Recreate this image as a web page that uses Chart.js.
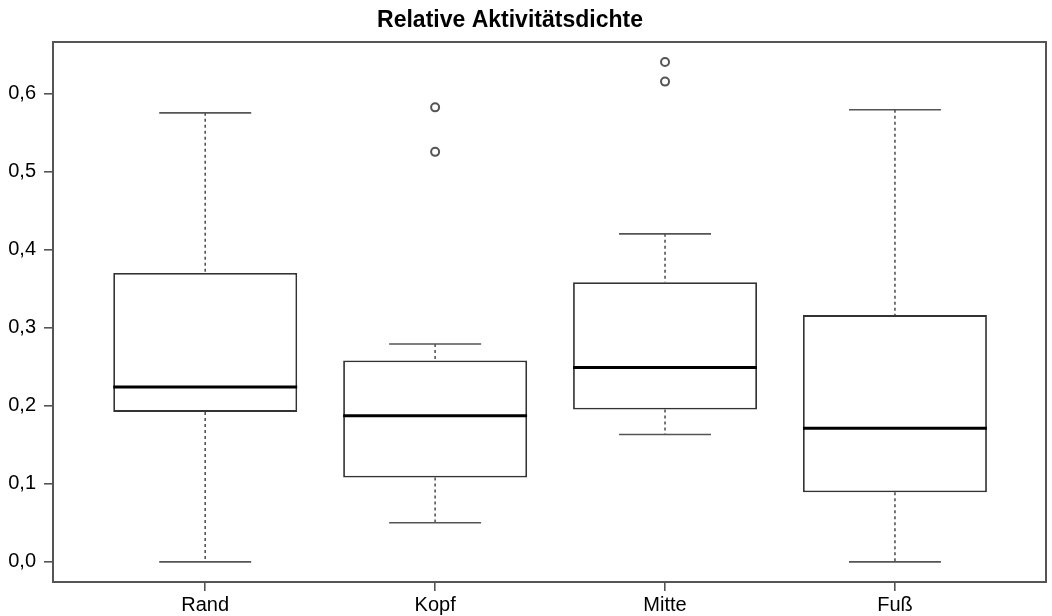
<!DOCTYPE html>
<html>
<head>
<meta charset="utf-8">
<script src="https://cdn.jsdelivr.net/npm/chart.js@4/dist/chart.umd.min.js"></script>
<style>
  html, body { margin: 0; padding: 0; background: #fff; }
  #wrap { width: 1052px; height: 616px; }
</style>
</head>
<body>
<div id="wrap"><canvas id="boxChart" width="1052" height="616"></canvas></div>
<script>
// Daten
const categories = ["Rand", "Kopf", "Mitte", "Fuß"];
const whiskerLow = [0.000, 0.050, 0.163, 0.000];
const q1 = [0.192, 0.108, 0.195, 0.089];
const median = [0.224, 0.187, 0.249, 0.171];
const q3 = [0.370, 0.258, 0.358, 0.316];
const whiskerHigh = [0.575, 0.279, 0.420, 0.579];
const outlierCat = [1, 1, 2, 2];
const outlierVal = [0.582, 0.525, 0.640, 0.615];
const yTicks = [0.0, 0.1, 0.2, 0.3, 0.4, 0.5, 0.6];
const titleText = "Relative Aktivitätsdichte";

const FONT = "'Liberation Sans', Arial, sans-serif";

/* ===============================
   BOXPLOT-DETAILS (Whisker, Median)
================================ */

const boxDetails = {
  id: "boxDetails",
  afterDatasetsDraw(chart) {
    const { ctx, scales } = chart;
    const meta = chart.getDatasetMeta(0);
    const y = scales.y;

    ctx.save();
    meta.data.forEach((bar, i) => {
      const cx = bar.x;
      const half = bar.width / 2;
      const yLow = y.getPixelForValue(whiskerLow[i]);
      const yQ1 = y.getPixelForValue(q1[i]);
      const yQ3 = y.getPixelForValue(q3[i]);
      const yHigh = y.getPixelForValue(whiskerHigh[i]);
      const yMed = y.getPixelForValue(median[i]);

      // gestrichelte Whisker
      ctx.strokeStyle = "#555";
      ctx.lineWidth = 1.6;
      ctx.setLineDash([3, 3]);
      ctx.beginPath();
      ctx.moveTo(cx, yHigh);
      ctx.lineTo(cx, yQ3);
      ctx.moveTo(cx, yQ1);
      ctx.lineTo(cx, yLow);
      ctx.stroke();

      // Querstriche
      ctx.setLineDash([]);
      ctx.beginPath();
      ctx.moveTo(cx - half / 2, yHigh);
      ctx.lineTo(cx + half / 2, yHigh);
      ctx.moveTo(cx - half / 2, yLow);
      ctx.lineTo(cx + half / 2, yLow);
      ctx.stroke();

      // Median
      ctx.strokeStyle = "#000";
      ctx.lineWidth = 3;
      ctx.beginPath();
      ctx.moveTo(cx - half, yMed);
      ctx.lineTo(cx + half, yMed);
      ctx.stroke();
    });
    ctx.restore();
  },
  afterDraw(chart) {
    const { ctx, chartArea } = chart;
    ctx.save();
    // Rahmen
    ctx.strokeStyle = "#555";
    ctx.lineWidth = 2;
    ctx.strokeRect(chartArea.left, chartArea.top,
      chartArea.right - chartArea.left, chartArea.bottom - chartArea.top);
    // Titel
    ctx.fillStyle = "#000";
    ctx.font = "bold 23px " + FONT;
    ctx.textAlign = "center";
    ctx.textBaseline = "alphabetic";
    ctx.fillText(titleText, 510, 27);
    ctx.restore();
  }
};

/* ===============================
   DIAGRAMM
================================ */

const ctx = document.getElementById("boxChart");

new Chart(ctx, {
  type: "bar",
  data: {
    datasets: [
      {
        type: "bar",
        data: categories.map((c, i) => ({ x: i, y: [q1[i], q3[i]] })),
        backgroundColor: "#fff",
        borderColor: "#333",
        borderWidth: 1.8,
        borderSkipped: false,
        barPercentage: 0.8,
        categoryPercentage: 1.0
      },
      {
        type: "scatter",
        data: outlierVal.map((v, i) => ({ x: outlierCat[i], y: v })),
        pointStyle: "circle",
        pointRadius: 4,
        pointBorderWidth: 2,
        pointBorderColor: "#555",
        pointBackgroundColor: "#fff",
        showLine: false
      }
    ]
  },
  options: {
    responsive: false,
    animation: false,
    layout: { padding: { top: 42, right: 4, left: 0, bottom: 0 } },
    plugins: {
      legend: { display: false },
      tooltip: { enabled: false },
      title: { display: false }
    },
    scales: {
      x: {
        type: "linear",
        offset: false,
        min: -0.662,
        max: 3.657,
        afterBuildTicks: (scale) => {
          scale.ticks = categories.map((c, i) => ({ value: i }));
        },
        afterFit: (scale) => { scale.height = 34; },
        ticks: {
          callback: (v) => categories[v],
          color: "#000",
          font: { family: FONT, size: 20 },
          padding: 2,
          maxRotation: 0,
          autoSkip: false
        },
        grid: {
          display: true,
          offset: false,
          drawOnChartArea: false,
          drawTicks: true,
          tickLength: 9,
          color: "#555",
          lineWidth: 1.6
        },
        border: { display: false }
      },
      y: {
        min: -0.0258,
        max: 0.6657,
        afterBuildTicks: (scale) => {
          scale.ticks = yTicks.map(v => ({ value: v }));
        },
        afterFit: (scale) => { scale.width = 53; },
        ticks: {
          callback: (v) => v.toFixed(1).replace(".", ","),
          color: "#000",
          font: { family: FONT, size: 20 },
          padding: 8
        },
        grid: {
          display: true,
          drawOnChartArea: false,
          drawTicks: true,
          tickLength: 9,
          color: "#555",
          lineWidth: 1.6
        },
        border: { display: false }
      }
    }
  },
  plugins: [boxDetails]
});
</script>
</body>
</html>
